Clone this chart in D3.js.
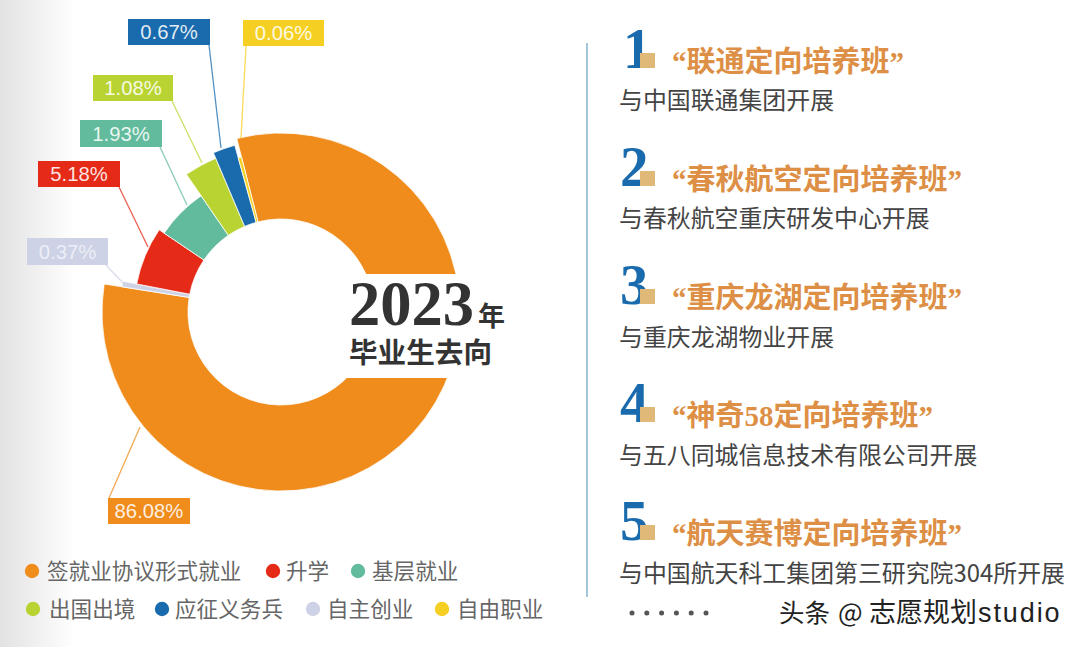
<!DOCTYPE html>
<html><head><meta charset="utf-8">
<script src="https://cdnjs.cloudflare.com/ajax/libs/d3/7.8.5/d3.min.js"></script>
<style>html,body{margin:0;padding:0;background:#fff}svg{display:block}</style>
</head><body><svg id="c" width="1080" height="647"></svg>
<script>
const categories=["签就业协议形式就业","升学","基层就业","出国出境","应征义务兵","自主创业","自由职业"];
const percentLabels=["86.08%","5.18%","1.93%","1.08%","0.67%","0.37%","0.06%"];
// Clockwise order as drawn; spans (degrees) and ring depths are read off the picture, which is not proportional
const sliceOrder=[0,5,1,2,3,4,6];
const drawnSpan=[293.3,2,23,21.5,11.5,7.5,1.2];
const ringDepth=[86,68,54,48,74,80,67];
const colours=["#f08c1c","#e52a18","#62bb9c","#b9d432","#1a6bad","#cdd2e6","#f5cf22"];
const classTitles=["联通定向培养班","春秋航空定向培养班","重庆龙湖定向培养班","神奇58定向培养班","航天赛博定向培养班"];
const classNotes=["与中国联通集团开展","与春秋航空重庆研发中心开展","与重庆龙湖物业开展","与五八同城信息技术有限公司开展","与中国航天科工集团第三研究院304所开展"];

const labelBoxes=[[108,498,82,26,109,498,140,427],[38,161,82,26,119,187,148,247],[80,120,82,27,160,147,187,205],[93,75,80,26,172,101,202,163],[128,19,82,26,209,45,221,148],[27,238,81,27,106,265,125,285],[243,20,81,26,246,46,241,138]];
const legendPos=[[32,571,47],[273,571,286],[358,571,372],[33,609,49],[162,609,175],[313,609,327],[442,609,457]];

const svg=d3.select("#c");
const CJK='"Noto Sans CJK SC"';
const defs=svg.append("defs");
const g=defs.append("linearGradient").attr("id","bg");
g.append("stop").attr("offset",0).attr("stop-color","#e2e2e2");
g.append("stop").attr("offset",1).attr("stop-color","#fff");
svg.append("rect").attr("width",1080).attr("height",647).attr("fill","#fff");
svg.append("rect").attr("width",75).attr("height",647).attr("fill","url(#bg)");

const radius=d3.scaleLinear().domain([0,86]).range([93,179]);
const rad=d=>d*Math.PI/180;
const pie=d3.pie().sort(null).value(i=>drawnSpan[sliceOrder.indexOf(i)])
  .startAngle(rad(-14.3)).endAngle(rad(-14.3+d3.sum(drawnSpan)));
const arc=d3.arc().innerRadius(radius(0)).outerRadius(d=>radius(ringDepth[sliceOrder.indexOf(d.data)]));
const donut=svg.append("g").attr("transform","translate(281,312)");
donut.selectAll("path").data(pie(sliceOrder)).join("path")
  .attr("d",arc).attr("fill",d=>colours[d.data]).attr("stroke","#fff").attr("stroke-width",.8);
// white panel behind the centre caption cuts the ring
svg.append("rect").attr("x",335).attr("y",274).attr("width",145).attr("height",104).attr("fill","#fff");

// callouts
labelBoxes.forEach((b,i)=>{
  const [x,y,w,h,x1,y1,x2,y2]=b;
  svg.append("line").attr("x1",x1).attr("y1",y1).attr("x2",x2).attr("y2",y2)
    .attr("stroke",colours[i]).attr("stroke-opacity",.75).attr("stroke-width",1.3);
  svg.append("rect").attr("x",x).attr("y",y).attr("width",w).attr("height",h).attr("fill",colours[i]);
  svg.append("text").attr("x",x+w/2).attr("y",y+h/2+7).attr("text-anchor","middle")
    .attr("font-family","Liberation Sans").attr("font-size",20.3)
    .attr("fill",i===5?"#f2f3f9":"#fff").attr("fill-opacity",.88).text(percentLabels[i]);
});

// centre caption
svg.append("text").attr("x",349).attr("y",325).attr("font-family","Liberation Serif").attr("font-weight",700)
  .attr("font-size",62.5).attr("fill","#333").text("2023");
svg.append("text").attr("x",478).attr("y",326).attr("font-family",CJK).attr("font-weight",700)
  .attr("font-size",27).attr("fill","#333").text("年");
svg.append("text").attr("x",349).attr("y",363).attr("font-family",CJK).attr("font-weight",700)
  .attr("font-size",28.6).attr("fill","#333").text("毕业生去向");

// legend
categories.forEach((c,i)=>{
  const [cx,cy,tx]=legendPos[i];
  svg.append("circle").attr("cx",cx).attr("cy",cy).attr("r",7.2).attr("fill",colours[i]);
  svg.append("text").attr("x",tx).attr("y",cy+7.5).attr("font-family",CJK).attr("font-size",21.6)
    .attr("fill","#666").text(c);
});

// right column
svg.append("line").attr("x1",587).attr("y1",43).attr("x2",587).attr("y2",597).attr("stroke","#8fb7d3").attr("stroke-width",1.6);
const rowY=d3.scalePoint().domain(d3.range(5)).range([71,543]);
classTitles.forEach((t,i)=>{
  const y=rowY(i);
  svg.append("text").attr("x",i===0?623:620).attr("y",y-3).attr("font-family","Liberation Serif").attr("font-weight",700)
    .attr("font-size",57).attr("fill","#1a6bad").text(i+1);
  svg.append("rect").attr("x",640).attr("y",y-18).attr("width",15).attr("height",15).attr("fill","#e0b878");
  svg.append("text").attr("x",672).attr("y",y+1).attr("font-weight",700).attr("font-size",29)
    .attr("font-family",'"Liberation Serif",'+CJK).attr("fill","#dd8f45").text("“"+t+"”");
  svg.append("text").attr("x",619).attr("y",y+38+(i>1?1:0)).attr("font-family",CJK).attr("font-size",23.9)
    .attr("fill","#444").text(classNotes[i]);
});
d3.range(6).forEach(i=>svg.append("circle").attr("cx",632+i*14.8).attr("cy",613).attr("r",2.5).attr("fill","#555"));

// watermark
const wm=svg.append("text").attr("y",622).attr("font-family",CJK)
  .attr("fill","#222").attr("stroke","#fff").attr("stroke-width",2.5).attr("paint-order","stroke");
wm.append("tspan").attr("x",779).attr("font-size",25.5).text("头条");
wm.append("tspan").attr("x",838).attr("font-size",26).text("@");
wm.append("tspan").attr("x",869).attr("font-size",27).text("志愿规划");
wm.append("tspan").attr("x",978).attr("font-size",27).attr("font-family","Liberation Sans").attr("letter-spacing",1.9).text("studio");
</script></body></html>
